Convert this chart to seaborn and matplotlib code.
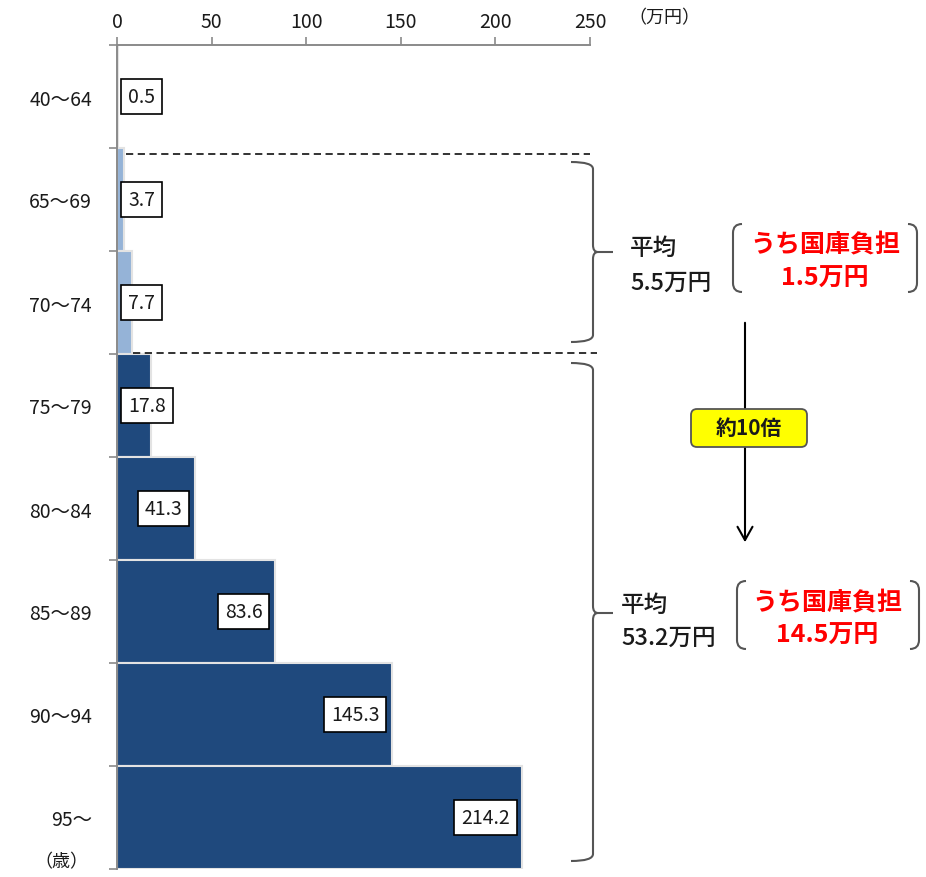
import matplotlib
matplotlib.use("Agg")
import matplotlib.pyplot as plt
from matplotlib.path import Path
from matplotlib.patches import PathPatch, FancyBboxPatch
import seaborn as sns
import pandas as pd

# --- data -------------------------------------------------------------
age_groups = ["40〜64", "65〜69", "70〜74", "75〜79", "80〜84", "85〜89", "90〜94", "95〜"]
cost_per_person = [0.5, 3.7, 7.7, 17.8, 41.3, 83.6, 145.3, 214.2]   # 万円
insurance_group = ["young", "young", "young", "old", "old", "old", "old", "old"]
x_ticks = [0, 50, 100, 150, 200, 250]

avg_young, treasury_young = "5.5万円", "1.5万円"
avg_old, treasury_old = "53.2万円", "14.5万円"
ratio_label = "約10倍"

palette = {"young": "#95B3D7", "old": "#1F497D"}

# --- style ------------------------------------------------------------
sns.set_theme(style="white")
plt.rcParams["font.family"] = ["Noto Sans CJK JP", "DejaVu Sans"]
axis_grey = "#8a8a8a"
text_dark = "#1a1a1a"

W, H = 926, 878
fig = plt.figure(figsize=(W / 100, H / 100), dpi=100)
ax = fig.add_axes([117 / W, 1 - 870 / H, (590 - 117) / W, (870 - 46) / H])

df = pd.DataFrame({"age": age_groups, "cost": cost_per_person, "grp": insurance_group})
sns.barplot(data=df, x="cost", y="age", hue="grp", palette=palette, order=age_groups,
            dodge=False, width=1.0, orient="h", legend=False, ax=ax,
            edgecolor="#e3e3e3", linewidth=1.5, saturation=1)

ax.set_xlim(0, 250)
ax.set_ylim(len(age_groups) - 0.5, -0.5)
ax.set_xlabel("")
ax.set_ylabel("")

# top value axis
ax.xaxis.tick_top()
ax.set_xticks(x_ticks)
ax.set_xticklabels([str(t) for t in x_ticks], fontsize=14, color=text_dark)
ax.tick_params(axis="x", which="major", direction="out", length=6, width=1.2,
               color=axis_grey, pad=3)

# category axis: ticks at boundaries, labels at centres
ax.set_yticks(range(len(age_groups)))
ax.set_yticklabels(age_groups, fontsize=14, color=text_dark)
ax.set_yticks([i - 0.5 for i in range(len(age_groups) + 1)], minor=True)
ax.tick_params(axis="y", which="major", length=0, pad=18)
ax.tick_params(axis="y", which="minor", direction="out", length=6, width=1.2,
               color=axis_grey, left=True)

for side in ["right", "bottom"]:
    ax.spines[side].set_visible(False)
for side in ["top", "left"]:
    ax.spines[side].set_color(axis_grey)
    ax.spines[side].set_linewidth(1.4)

# value labels in boxes
box = dict(boxstyle="square,pad=0.35", facecolor="white", edgecolor="black", linewidth=1.2)
for i, v in enumerate(cost_per_person):
    if v < 30:
        ax.annotate(f"{v}", (0, i), xytext=(8, 0), textcoords="offset points",
                    ha="left", va="center", fontsize=14, color=text_dark, bbox=box, zorder=5)
    else:
        ax.annotate(f"{v}", (v, i), xytext=(-9, 0), textcoords="offset points",
                    ha="right", va="center", fontsize=14, color=text_dark, bbox=box, zorder=5)

# dashed separators between age brackets
ax.plot([4.6, 250], [0.56, 0.56], ls=(0, (4, 2.5)), color="#222222", lw=1.3, clip_on=False)
ax.plot([8.5, 253.5], [2.49, 2.49], ls=(0, (4, 2.5)), color="#222222", lw=1.3, clip_on=False)

# --- annotation layer in pixel coordinates -----------------------------
ov = fig.add_axes([0, 0, 1, 1], zorder=10)
ov.set_xlim(0, W)
ov.set_ylim(H, 0)
ov.axis("off")
ov.patch.set_alpha(0)

ov.text(664, 18, "（万円）", ha="center", va="center", fontsize=13, color=text_dark)
ov.text(61, 862, "（歳）", ha="center", va="center", fontsize=13, color=text_dark)


def brace(top, bottom, tip, x0=571, x1=593, xt=613, color="#555555"):
    r = 7
    verts = [(x0, top), (x1, top), (x1, top + r),
             (x1, tip - r), (x1, tip), (x1 + 5, tip), (xt, tip),
             (x1 + 5, tip), (x1, tip), (x1, tip + r),
             (x1, bottom - r), (x1, bottom), (x0, bottom)]
    codes = [Path.MOVETO, Path.CURVE3, Path.CURVE3,
             Path.LINETO, Path.CURVE3, Path.CURVE3, Path.LINETO,
             Path.MOVETO, Path.CURVE3, Path.CURVE3,
             Path.LINETO, Path.CURVE3, Path.CURVE3]
    ov.add_patch(PathPatch(Path(verts, codes), fill=False, edgecolor=color, lw=1.5))


def paren(xl, xr, top, bottom, color="#555555"):
    d = 9
    left = Path([(xl + d, top), (xl, top), (xl, top + d), (xl, bottom - d), (xl, bottom), (xl + d, bottom)],
                [Path.MOVETO, Path.CURVE3, Path.CURVE3, Path.LINETO, Path.CURVE3, Path.CURVE3])
    right = Path([(xr - d, top), (xr, top), (xr, top + d), (xr, bottom - d), (xr, bottom), (xr - d, bottom)],
                 [Path.MOVETO, Path.CURVE3, Path.CURVE3, Path.LINETO, Path.CURVE3, Path.CURVE3])
    for p in (left, right):
        ov.add_patch(PathPatch(p, fill=False, edgecolor=color, lw=1.5))


brace(163, 343, 253)
brace(364, 862, 614)

# upper summary
ov.text(630, 248, "平均", ha="left", va="center", fontsize=17, color=text_dark, fontweight="medium")
ov.text(630, 283, avg_young, ha="left", va="center", fontsize=17, color=text_dark, fontweight="medium")
paren(733, 917, 225, 293)
ov.text(825, 245, "うち国庫負担", ha="center", va="center", fontsize=18,
        fontweight="bold", color="#FF0000")
ov.text(825, 279, treasury_young, ha="center", va="center", fontsize=18,
        fontweight="bold", color="#FF0000")

# lower summary
ov.text(621, 605, "平均", ha="left", va="center", fontsize=17, color=text_dark, fontweight="medium")
ov.text(621, 638, avg_old, ha="left", va="center", fontsize=17, color=text_dark, fontweight="medium")
paren(737, 919, 582, 650)
ov.text(827, 603, "うち国庫負担", ha="center", va="center", fontsize=18,
        fontweight="bold", color="#FF0000")
ov.text(827, 636, treasury_old, ha="center", va="center", fontsize=18,
        fontweight="bold", color="#FF0000")

# arrow and ratio badge
ov.annotate("", xy=(745, 546), xytext=(745, 321),
            arrowprops=dict(arrowstyle="->,head_length=0.8,head_width=0.45",
                            color="black", lw=1.5))
ov.add_patch(FancyBboxPatch((691, 410), 116, 38, boxstyle="round,pad=0,rounding_size=6",
                            facecolor="#FFFF00", edgecolor="#555555", lw=1.3, zorder=11))
ov.text(749, 429, ratio_label, ha="center", va="center", fontsize=15,
        fontweight="bold", color=text_dark, zorder=12)

fig.savefig("out.png", dpi=100)
